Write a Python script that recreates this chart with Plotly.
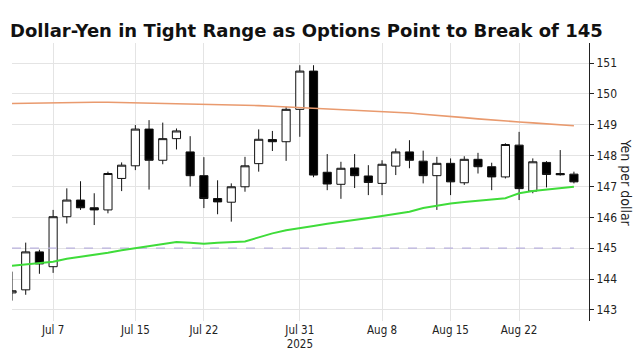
import plotly.graph_objects as go

dates = ["2025-07-02", "2025-07-03", "2025-07-04", "2025-07-07", "2025-07-08", "2025-07-09",
         "2025-07-10", "2025-07-11", "2025-07-14", "2025-07-15", "2025-07-16", "2025-07-17",
         "2025-07-18", "2025-07-21", "2025-07-22", "2025-07-23", "2025-07-24", "2025-07-25",
         "2025-07-28", "2025-07-29", "2025-07-30", "2025-07-31", "2025-08-01", "2025-08-04",
         "2025-08-05", "2025-08-06", "2025-08-07", "2025-08-08", "2025-08-11", "2025-08-12",
         "2025-08-13", "2025-08-14", "2025-08-15", "2025-08-18", "2025-08-19", "2025-08-20",
         "2025-08-21", "2025-08-22", "2025-08-25", "2025-08-26", "2025-08-27", "2025-08-28"]

open_ = [143.55, 143.65, 144.88, 144.40, 146.02, 146.56, 146.31, 146.24, 147.26, 147.67, 148.86, 147.85,
         148.55, 148.12, 147.35, 146.61, 146.49, 146.99, 147.74, 148.52, 148.45, 149.50, 150.74, 147.46,
         147.07, 147.60, 147.34, 147.10, 147.66, 148.12, 147.82, 147.35, 147.75, 147.12, 147.88, 147.64,
         147.31, 148.34, 146.85, 147.78, 147.42, 147.40]
high = [144.24, 145.18, 144.95, 146.24, 146.94, 147.17, 146.78, 147.48, 147.78, 148.99, 149.15, 149.07,
        148.88, 148.63, 147.95, 147.20, 147.10, 147.96, 148.85, 148.80, 149.58, 150.93, 150.93, 148.05,
        147.80, 148.05, 147.69, 147.85, 148.23, 148.50, 148.16, 147.96, 147.91, 147.98, 148.09, 147.77,
        148.40, 148.77, 147.91, 147.82, 148.18, 147.48]
low = [143.30, 143.49, 144.17, 144.20, 145.80, 146.24, 145.75, 146.13, 146.85, 147.53, 146.90, 147.72,
       148.20, 147.00, 146.30, 146.10, 145.86, 146.83, 147.48, 148.15, 147.83, 148.61, 147.30, 146.88,
       146.60, 146.95, 146.72, 146.72, 147.37, 147.59, 147.10, 146.24, 146.72, 147.05, 147.42, 146.88,
       147.26, 146.56, 146.78, 146.97, 147.35, 147.10]
close = [143.62, 144.88, 144.49, 146.02, 146.56, 146.31, 146.24, 147.42, 147.69, 148.86, 147.85, 148.55,
         148.80, 147.35, 146.61, 146.50, 146.99, 147.67, 148.53, 148.45, 149.50, 150.74, 147.37, 147.08,
         147.59, 147.35, 147.13, 147.72, 148.12, 147.85, 147.35, 147.75, 147.15, 147.88, 147.64, 147.31,
         148.36, 146.93, 147.80, 147.39, 147.38, 147.15]

ma_long = [149.69, 149.70, 149.70, 149.71, 149.72, 149.72, 149.73, 149.73, 149.72, 149.72, 149.71, 149.71,
           149.70, 149.69, 149.68, 149.67, 149.66, 149.64, 149.62, 149.60, 149.58, 149.56, 149.54, 149.52,
           149.49, 149.47, 149.45, 149.43, 149.41, 149.38, 149.34, 149.31, 149.27, 149.23, 149.19, 149.15,
           149.12, 149.09, 149.06, 149.03, 149.00, 148.97]
ma_short = [144.43, 144.47, 144.52, 144.56, 144.66, 144.72, 144.78, 144.85, 144.93, 145.00, 145.08, 145.15,
            145.20, 145.18, 145.14, 145.18, 145.20, 145.22, 145.35, 145.48, 145.58, 145.66, 145.72, 145.79,
            145.86, 145.92, 145.98, 146.04, 146.10, 146.18, 146.30, 146.38, 146.45, 146.50, 146.55, 146.58,
            146.62, 146.78, 146.85, 146.90, 146.95, 146.99]

strike_level = 145
tick_dates = ["2025-07-07", "2025-07-15", "2025-07-22", "2025-07-31", "2025-08-08", "2025-08-15", "2025-08-22"]
tick_text = ["Jul 7", "Jul 15", "Jul 22", "Jul 31<br>2025", "Aug 8", "Aug 15", "Aug 22"]
y_ticks = [143, 144, 145, 146, 147, 148, 149, 150, 151]

narrow = "Liberation Sans Narrow, DejaVu Sans Condensed, Roboto Condensed, DejaVu Sans"

fig = go.Figure()
fig.add_trace(go.Scatter(x=dates, y=[strike_level] * len(dates), mode="lines",
                         line=dict(color="#b9b1dd", width=1.3, dash="dash"), showlegend=False,
                         hoverinfo="skip"))
fig.add_trace(go.Scatter(x=dates, y=ma_long, mode="lines",
                         line=dict(color="#e99a6e", width=1.6), showlegend=False))
fig.add_trace(go.Scatter(x=dates, y=ma_short, mode="lines",
                         line=dict(color="#3fdc3a", width=2), showlegend=False))
fig.add_trace(go.Candlestick(x=dates, open=open_, high=high, low=low, close=close,
                             increasing=dict(line=dict(color="#111111", width=1), fillcolor="white"),
                             decreasing=dict(line=dict(color="#111111", width=1), fillcolor="#000000"),
                             whiskerwidth=0, showlegend=False))

L, R, T, B = 11.5, 50.3, 43, 31
fig.update_layout(
    width=639, height=352,
    margin=dict(l=L, r=R, t=T, b=B),
    paper_bgcolor="white", plot_bgcolor="white",
    boxgap=0.15,
    font=dict(family=narrow, color="#222222", size=12),
    title=dict(text="<b>Dollar-Yen in Tight Range as Options Point to Break of 145</b>",
               x=10 / 639, xanchor="left", xref="container",
               y=1 - 31 / 352, yanchor="middle", yref="container",
               font=dict(family="DejaVu Sans", size=18, color="#111111")),
    xaxis=dict(type="category", range=[0, 42.1], rangeslider=dict(visible=False),
               tickvals=tick_dates, ticktext=tick_text, showgrid=True, gridcolor="#e4e4e4",
               gridwidth=1, ticks="", showline=False, zeroline=False, automargin=False,
               tickfont=dict(size=11.5, color="#222222")),
    yaxis=dict(side="right", range=[142.64, 151.65], tickvals=y_ticks, showgrid=True,
               gridcolor="#e4e4e4", gridwidth=1, showline=True, linecolor="#222222", linewidth=1,
               ticks="outside", ticklen=4, tickcolor="#222222", zeroline=False, automargin=False,
               tickfont=dict(size=12, color="#222222")),
)
pw = 639 - L - R
ph = 352 - T - B
fig.add_annotation(text="Yen per dollar", textangle=90,
                   x=(626 - L) / pw, y=(352 - B - 183) / ph, xref="paper", yref="paper",
                   xanchor="center", yanchor="middle", showarrow=False,
                   font=dict(family=narrow, size=14, color="#222222"))

fig.write_html("out.html")
